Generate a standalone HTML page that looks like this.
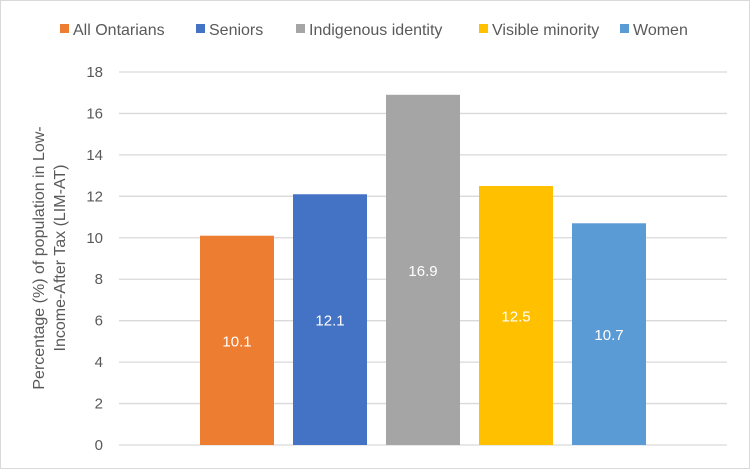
<!DOCTYPE html>
<html><head><meta charset="utf-8"><style>
body{margin:0;background:#fff;font-family:"Liberation Sans",sans-serif}
svg text{font-family:"Liberation Sans",sans-serif}
</style></head><body>
<svg width="750" height="469" viewBox="0 0 750 469">
<rect x="0.5" y="0.5" width="749" height="468" fill="#fff" stroke="#d9d9d9"/>
<g id="grid"></g><g id="yticks"></g><g id="bars"></g><g id="legend"></g>
<text transform="translate(48,258) rotate(-90)" text-anchor="middle" font-size="16" fill="#595959"><tspan x="0" dy="-4">Percentage (%) of population in Low-</tspan><tspan x="0" dy="21">Income-After Tax (LIM-AT)</tspan></text>
</svg>
<script>
const series=["All Ontarians","Seniors","Indigenous identity","Visible minority","Women"];
const values=[10.1,12.1,16.9,12.5,10.7];
const colors=["#ED7D31","#4472C4","#A5A5A5","#FFC000","#5B9BD5"];
const ticks=[0,2,4,6,8,10,12,14,16,18];
const NS="http://www.w3.org/2000/svg";
const x0=119,x1=727,yBase=445,yTop=72,yMax=18;
const y=v=>yBase-(v/yMax)*(yBase-yTop);
function mk(t,a,p){const e=document.createElementNS(NS,t);for(const k in a)e.setAttribute(k,a[k]);p.appendChild(e);return e;}
const grid=document.getElementById('grid'),yt=document.getElementById('yticks');
ticks.forEach(t=>{
 const l=mk('line',{x1:x0,x2:x1,y1:y(t),y2:y(t),stroke:'#d9d9d9','stroke-width':1.3},grid);
 
 
 const tx=mk('text',{x:103,y:y(t)+5,'text-anchor':'end','font-size':15,fill:'#595959'},yt);
 tx.textContent=t;
 
 
});
const bars=document.getElementById('bars');
const cx=(x0+x1)/2,step=93,bw=74;
values.forEach((v,i)=>{
 const c=cx+(i-(values.length-1)/2)*step;
 const r=mk('rect',{x:c-bw/2,y:y(v),width:bw,height:yBase-y(v),fill:colors[i]},bars);
 
 
 const t=mk('text',{x:c,y:(y(v)+yBase)/2+6,'text-anchor':'middle','font-size':15,fill:'#fff'},bars);
 t.textContent=v.toFixed(1);
 
 
});
const lg=document.getElementById('legend');
const lx=[60,196,296,479,620];
series.forEach((s,i)=>{
 const g=mk('g',{},lg);
 
 
 mk('rect',{x:lx[i],y:24,width:9,height:9,fill:colors[i]},g);
 const t=mk('text',{x:lx[i]+13,y:35,'font-size':16,fill:'#595959'},g);
 t.textContent=s;
});
</script>
</body></html>
